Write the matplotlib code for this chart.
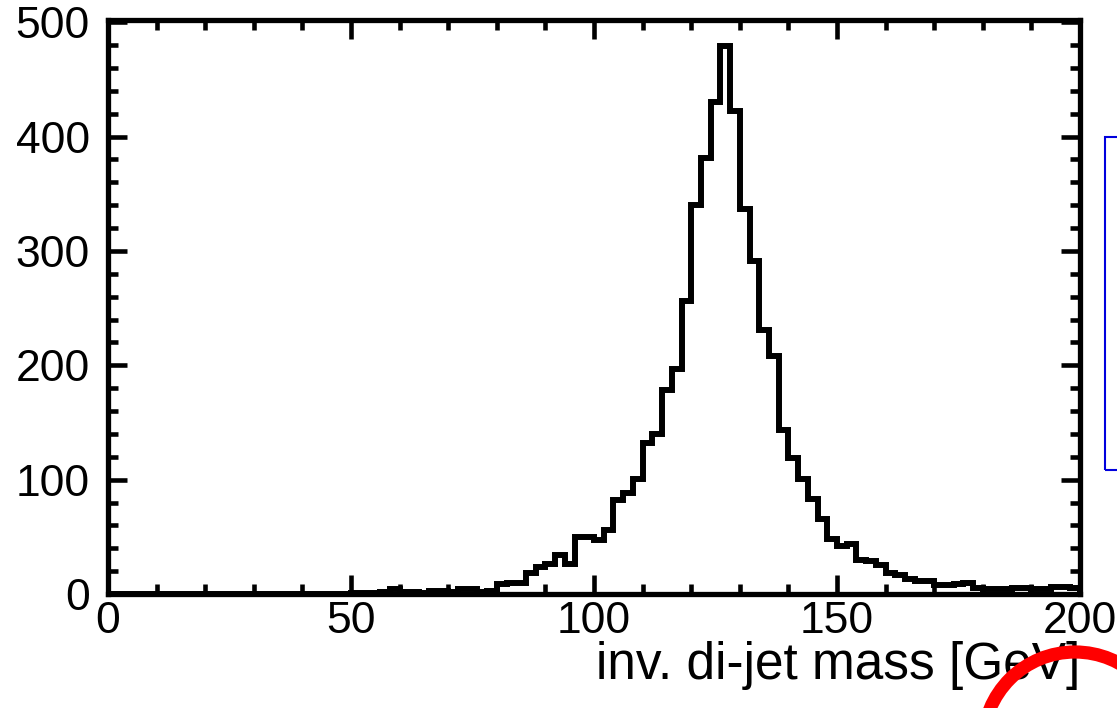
"""
Histogramme de la masse invariante di-jet (style ROOT).
"""

import matplotlib

matplotlib.use("Agg")
import matplotlib.pyplot as plt
import numpy as np
from matplotlib.patches import Ellipse, Rectangle
from matplotlib.ticker import MultipleLocator

plt.rcParams["font.family"] = ["Liberation Sans", "DejaVu Sans"]

# Bornes des bins : 100 bins de 2 GeV entre 0 et 200
bin_edges = np.arange(0, 202, 2)

# Contenu des bins
counts = [
    0, 0, 0, 0, 0, 0, 0, 0, 0, 0,
    0, 0, 0, 0, 0, 0, 0, 0, 0, 0,
    0, 0, 0, 0, 0, 1, 1, 1, 2, 4,
    2, 2, 1, 3, 3, 2, 4, 4, 2, 3,
    9, 10, 10, 18, 24, 26, 34, 26, 50, 50,
    47, 56, 82, 88, 101, 132, 140, 178, 197, 256,
    340, 381, 430, 479, 422, 337, 291, 231, 208, 143,
    119, 101, 83, 66, 48, 42, 44, 30, 29, 25,
    18, 17, 13, 11, 11, 8, 8, 9, 10, 5,
    4, 4, 4, 5, 5, 4, 4, 6, 6, 5,
]

x_ticks = [0, 50, 100, 150, 200]
y_ticks = [0, 100, 200, 300, 400, 500]
x_label = "inv. di-jet mass [GeV]"


def main() -> None:
    fig = plt.figure(figsize=(11.17, 7.08), dpi=100)
    ax = fig.add_axes([0.0967, 0.161, 0.8702, 0.8108])

    ax.stairs(counts, bin_edges, color="black", lw=4.3)

    ax.set_xlim(0, 200)
    ax.set_ylim(0, 502)
    ax.set_xticks(x_ticks)
    ax.set_yticks(y_ticks)
    ax.xaxis.set_minor_locator(MultipleLocator(10))
    ax.yaxis.set_minor_locator(MultipleLocator(20))

    for side in ax.spines.values():
        side.set_linewidth(3.8)

    ax.tick_params(which="both", direction="in", top=True, right=True,
                   labelsize=32, width=3.3)
    ax.tick_params(which="major", length=14)
    ax.tick_params(which="minor", length=7)
    ax.tick_params(axis="x", which="major", pad=5)
    ax.tick_params(axis="y", which="major", pad=13)

    ax.set_xlabel(x_label, fontsize=37, ha="right")
    ax.xaxis.set_label_coords(1.0, -0.081)

    # Cadre bleu partiel (à droite) et cercle rouge (en bas à droite)
    fig.patches.append(Rectangle((1105 / 1117, 238 / 708), 40 / 1117, 333 / 708,
                                 transform=fig.transFigure, fill=False,
                                 edgecolor="#0000dd", lw=1.5))
    fig.patches.append(Ellipse((1075 / 1117, -36 / 708), 184 / 1117, 184 / 708,
                               transform=fig.transFigure, fill=False,
                               edgecolor="#ff0000", lw=9.5))

    plt.savefig("out.png", dpi=100)
    plt.close()


if __name__ == "__main__":
    main()
